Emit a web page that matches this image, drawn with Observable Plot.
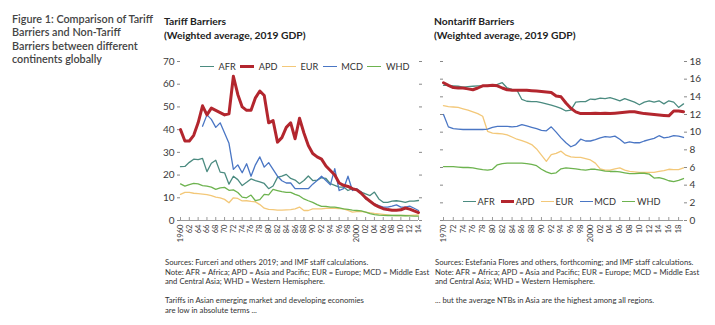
<!DOCTYPE html>
<html>
<head>
<meta charset="utf-8">
<script src="https://cdn.jsdelivr.net/npm/d3@7"></script>
<script src="https://cdn.jsdelivr.net/npm/@observablehq/plot@0.6"></script>
<style>
  html, body { margin: 0; padding: 0; background: #fff; }
  body { font-family: Lato, "Open Sans", sans-serif; color: #333; }
  #page { position: relative; width: 715px; height: 325px; overflow: hidden; background: #fff; }
  .abs { position: absolute; }
  .fig { left: 12px; top: 12px; font-size: 10.8px; line-height: 13.4px; color: #444; font-weight: 600; white-space: nowrap; }
  .ttl { font-size: 10.3px; line-height: 14px; font-weight: 700; color: #222; white-space: nowrap; }
  .note { font-size: 7.7px; line-height: 9.5px; color: #333; white-space: nowrap; }
  .note p { margin: 0 0 9.5px 0; }
  .legend { display: flex; align-items: center; font-size: 9.2px; color: #333; white-space: nowrap; }
  .legend .item { display: flex; align-items: center; }
  .legend .sw { display: inline-block; }
</style>
</head>
<body>
<div id="page">
  <div class="abs fig">Figure 1: Comparison of Tariff<br>Barriers and Non-Tariff<br>Barriers between different<br>continents globally</div>

  <div class="abs ttl" style="left:164px;top:14px;">Tariff Barriers<br>(Weighted average, 2019 GDP)</div>
  <div class="abs ttl" style="left:434px;top:14px;">Nontariff Barriers<br>(Weighted average, 2019 GDP)</div>

  <div id="chart1" class="abs" style="left:150px;top:50px;"></div>
  <div id="chart2" class="abs" style="left:420px;top:50px;"></div>

  <div id="legend1" class="abs legend" style="left:200px;top:61px;"></div>
  <div id="legend2" class="abs legend" style="left:463px;top:196px;"></div>

  <div class="abs note" style="left:165px;top:258px;">
    <p>Sources: Furceri and others 2019; and IMF staff calculations.<br>Note: AFR = Africa; APD = Asia and Pacific; EUR = Europe; MCD = Middle East<br>and Central Asia; WHD = Western Hemisphere.</p>
    <p>Tariffs in Asian emerging market and developing economies<br>are low in absolute terms ...</p>
  </div>
  <div class="abs note" style="left:435px;top:258px;">
    <p>Sources: Estefania Flores and others, forthcoming; and IMF staff calculations.<br>Note: AFR = Africa; APD = Asia and Pacific; EUR = Europe; MCD = Middle East<br>and Central Asia; WHD = Western Hemisphere.</p>
    <p>... but the average NTBs in Asia are the highest among all regions.</p>
  </div>
</div>

<script>
// ---------- data ----------
const regions = ["AFR", "APD", "EUR", "MCD", "WHD"];
const regionColors = ["#4b8b80", "#b3262e", "#f3c879", "#4a76c4", "#6db34f"];

// Tariff barriers, 1960–2014
const tariffYears = d3.range(1960, 2015);
const tariffAFR = [23.7, 23.8, 25.6, 27, 26.8, 27.3, 21.5, 25.2, 26.5, 21.3,
  21, 16, 19.5, 18, 15.4, 16.8, 18.3, 17.6, 17, 16.3,
  14, 15.2, 19, 19.5, 20.3, 18.5, 17.8, 16.2, 17.6, 19.6,
  17.6, 17.8, 18.8, 18.5, 16.2, 15.5, 14.7, 14.7, 13.2, 14,
  13.3, 12.5, 11.7, 11, 12.5, 9.5, 8, 8, 8.5, 8.7,
  8.4, 8, 8.5, 8.5, 8.8];
const tariffAPD = [40, 35, 35, 37.5, 43, 50.5, 46.5, 49.5, 48.5, 47.5,
  46.5, 47, 63.5, 55.5, 50, 48.5, 48.5, 54, 57, 55,
  43, 44, 34.5, 36.5, 41, 43, 36, 45, 38.5, 33,
  29.5, 28, 27, 24, 22, 20, 16.5, 15.5, 15, 14,
  13.5, 12, 10, 8.5, 7, 6, 5.2, 4.8, 4.5, 4.5,
  4.7, 5.5, 5, 4.2, 3.5];
const tariffEUR = [11.5, 12.4, 12.4, 12, 11.8, 11.6, 11.4, 11, 10.3, 10,
  9.3, 7.8, 10, 9.7, 8.6, 8.7, 8.4, 8.2, 7, 5.4,
  4.9, 4.8, 4.6, 4.6, 4.7, 4.8, 5.1, 5.9, 4.4, 4.4,
  5.1, 5.1, 5.1, 5.4, 5.4, 5.4, 5.2, 5.1, 4.4, 3.7,
  3.9, 4, 3.7, 3.4, 3.1, 2.9, 2.7, 2.5, 2.3, 2.2,
  2.2, 2.2, 2.3, 2.4, 2.5];
const tariffMCD = [null, null, null, null, null, 41.5, 46.5, 44.5, 41, 43,
  38.5, 34, 22.5, 24.5, 21, 25, 19.5, 24.5, 28, 23.5,
  25.5, 22.5, 19.5, 17.5, 16.5, 16.5, 14, 14, 14, 14,
  16, 17.6, 19.5, 17.6, 15.7, 22.8, 13.2, 14, 19.5, 13.2,
  14, 12.5, 9.5, 8.5, 7.3, 6.6, 5.9, 5.9, 6.3, 6.9,
  5.9, 5.9, 6.3, 5.4, 4.4];
const tariffWHD = [16.1, 15.1, 15.8, 16.3, 16.1, 15.4, 15.1, 14.7, 13.7, 14.4,
  14.6, 13.3, 13.5, 12.3, 10.3, 10, 11.2, 8.7, 9.2, 11.5,
  11.3, 13.7, 13.2, 12.7, 12.4, 12.4, 11.5, 10.8, 9.5, 8.7,
  8, 7, 6.2, 6.2, 5.9, 5.9, 5.6, 5.1, 4.9, 4.6,
  4.4, 4.2, 3.7, 3, 2.6, 2.4, 2.3, 2.2, 2.2, 2.2,
  2.2, 2.1, 2, 1.9, 1.9];
const tariffValueTicks = [0, 10, 20, 30, 40, 50, 60, 70];
const tariffYearTicks = d3.range(1960, 2015, 2);

// Nontariff barriers, 1970–2019
const ntbYears = d3.range(1970, 2020);
const ntbAFR = [15.3, 15.3, 15.25, 15.2, 15.1, 15.15, 15.2, 15.25, 15.25, 15.3,
  15.3, 15.4, 15.6, 15.0, 14.85, 14.75, 13.7, 13.5, 13.45, 13.45,
  13.35, 13.2, 13.05, 12.9, 12.7, 12.4, 12.5, 13.4, 13.45, 13.45,
  13.75, 13.7, 13.85, 13.8, 13.9, 13.75, 13.55, 13.8, 13.6, 13.4,
  13.1, 13.4, 13.55, 13.4, 13.55, 13.2, 13.55, 13.4, 12.8, 13.2];
const ntbAPD = [15.6, 15.3, 15.05, 15.0, 15.0, 14.9, 14.8, 15.0, 15.25, 15.25,
  15.3, 15.25, 15.0, 14.8, 14.75, 14.75, 14.75, 14.75, 14.7, 14.65,
  14.6, 14.55, 14.5, 14.1, 14.0, 13.3, 12.7, 12.3, 12.1, 12.1,
  12.1, 12.15, 12.1, 12.15, 12.1, 12.15, 12.2, 12.25, 12.3, 12.3,
  12.2, 12.1, 12.05, 12.0, 11.95, 11.9, 11.85, 12.4, 12.4, 12.3];
const ntbEUR = [13.0, 12.9, 12.85, 12.8, 12.65, 12.5, 12.3, 12.1, 11.8, 10.1,
  9.9, 9.85, 9.8, 9.7, 9.45, 9.2, 9.05, 8.85, 8.6, 8.1,
  7.4, 6.7, 7.45, 7.6, 7.85, 7.4, 7.2, 7.15, 7.15, 7.0,
  6.85, 6.5, 5.85, 5.7, 5.7, 5.85, 5.95, 5.7, 5.55, 5.5,
  5.45, 5.45, 5.45, 5.45, 5.55, 5.65, 5.8, 5.75, 5.75, 5.95];
const ntbMCD = [12.0, 10.6, 10.4, 10.35, 10.3, 10.3, 10.3, 10.3, 10.3, 10.35,
  10.55, 10.65, 10.65, 10.65, 10.6, 10.65, 10.85, 10.7, 10.55, 10.4,
  10.2, 10.15, 10.6, 10.0, 9.35, 8.8, 8.35, 8.6, 9.2, 9.0,
  9.0, 9.15, 9.35, 9.5, 9.45, 9.55, 9.2, 8.75, 8.9, 8.8,
  8.8, 9.0, 9.15, 9.3, 9.6, 9.35, 9.45, 9.6, 9.55, 9.4];
const ntbWHD = [6.1, 6.1, 6.1, 6.05, 6.0, 6.0, 5.95, 5.85, 5.75, 5.7,
  5.8, 6.3, 6.45, 6.5, 6.5, 6.5, 6.5, 6.45, 6.35, 6.2,
  5.8, 5.5, 5.3, 5.4, 5.85, 5.95, 5.9, 5.85, 5.75, 5.7,
  5.8, 5.8, 5.7, 5.6, 5.55, 5.55, 5.5, 5.4, 5.3, 5.3,
  5.35, 5.35, 5.25, 4.8, 4.85, 4.7, 4.5, 4.4, 4.55, 4.75];
const ntbValueTicks = [0, 2, 4, 6, 8, 10, 12, 14, 16, 18];
const ntbYearTicks = d3.range(1970, 2019, 2);

// ---------- tables ----------
function toRows(years, seriesList) {
  const rows = [];
  seriesList.forEach((vals, i) => {
    vals.forEach((v, j) => {
      if (v != null) rows.push({ region: regions[i], year: years[j], value: v });
    });
  });
  return rows;
}
const tariffRows = toRows(tariffYears, [tariffAFR, tariffAPD, tariffEUR, tariffMCD, tariffWHD]);
const ntbRows = toRows(ntbYears, [ntbAFR, ntbAPD, ntbEUR, ntbMCD, ntbWHD]);

function yearFormat(fullYears) {
  return d => fullYears.includes(d) ? String(d) : String(d % 100).padStart(2, "0");
}

function makeChart({ rows, xDomain, yDomain, valueTicks, yearTicks, fullYears, labelSide, width, marginLeft, marginRight }) {
  const height = 200, marginTop = 11, marginBottom = 30;
  const plotH = height - marginTop - marginBottom;
  const otherSide = labelSide === "left" ? "right" : "left";
  return Plot.plot({
    width, height, marginLeft, marginRight, marginTop, marginBottom,
    style: { fontFamily: "Lato, 'Open Sans', sans-serif", background: "transparent", color: "#333", overflow: "visible" },
    x: { domain: xDomain },
    y: { domain: yDomain },
    color: { domain: regions, range: regionColors },
    marks: [
      Plot.axisY(valueTicks, { anchor: labelSide, tickSize: 3, tickPadding: 3, fontSize: 10, stroke: "#888", fill: "#3a3a3a", label: null }),
      Plot.axisY(valueTicks, { anchor: otherSide, tickSize: 3, stroke: "#888", fill: "none", label: null }),
      Plot.ruleY([0], { stroke: "#999", strokeWidth: 1 }),
      Plot.tickX(yearTicks, { x: d => d, insetTop: plotH - 3, stroke: "#999" }),
      Plot.axisX(yearTicks, { tickSize: 0, tickRotate: -90, tickPadding: 4, fontSize: 7.6, fill: "#3a3a3a", tickFormat: yearFormat(fullYears), label: null }),
      Plot.line(rows.filter(r => r.region !== "APD"), { x: "year", y: "value", z: "region", stroke: "region", strokeWidth: 1.3 }),
      Plot.line(rows.filter(r => r.region === "APD"), { x: "year", y: "value", z: "region", stroke: "region", strokeWidth: 3 })
    ]
  });
}

document.getElementById("chart1").append(makeChart({
  rows: tariffRows, xDomain: [1960, 2014], yDomain: [0, 70],
  valueTicks: tariffValueTicks, yearTicks: tariffYearTicks, fullYears: [1960, 2000],
  labelSide: "left", width: 280, marginLeft: 30, marginRight: 12
}));
document.getElementById("chart2").append(makeChart({
  rows: ntbRows, xDomain: [1970, 2019], yDomain: [0, 18],
  valueTicks: ntbValueTicks, yearTicks: ntbYearTicks, fullYears: [1970, 2000],
  labelSide: "right", width: 295, marginLeft: 23, marginRight: 32
}));

// ---------- legends ----------
function buildLegend(el, { swatchW, swatchGap, itemGap }) {
  el.style.gap = itemGap + "px";
  regions.forEach((r, i) => {
    const item = document.createElement("span");
    item.className = "item";
    const sw = document.createElement("span");
    sw.className = "sw";
    sw.style.width = swatchW + "px";
    sw.style.height = (r === "APD" ? 3 : 1.6) + "px";
    sw.style.background = regionColors[i];
    sw.style.marginRight = swatchGap + "px";
    const t = document.createElement("span");
    t.textContent = r;
    item.append(sw, t);
    el.append(item);
  });
}
buildLegend(document.getElementById("legend1"), { swatchW: 14, swatchGap: 4.5, itemGap: 4.5 });
buildLegend(document.getElementById("legend2"), { swatchW: 13, swatchGap: 1.5, itemGap: 6.5 });
</script>
</body>
</html>
